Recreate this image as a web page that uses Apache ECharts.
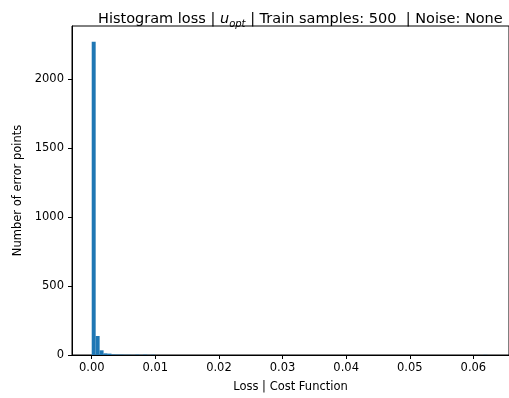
<!DOCTYPE html>
<html>
<head>
<meta charset="utf-8">
<script src="https://cdn.jsdelivr.net/npm/echarts@6/dist/echarts.min.js"></script>
<style>
html,body{margin:0;padding:0;background:#fff;}
#chart{width:509px;height:398px;}
</style>
</head>
<body>
<div id="chart"></div>
<script>
// Histogram: 100 bins from 0 to binMax
const binMin = 0;
const binMax = 0.0622;
const counts = [
  2273, 138, 34, 12, 10, 4, 3, 3, 2, 2,
  1, 3, 1, 3, 1, 2, 0, 0, 0, 0,
  0, 0, 0, 0, 0, 0, 0, 0, 0, 0,
  0, 0, 0, 0, 0, 0, 0, 0, 0, 0,
  0, 0, 0, 0, 0, 0, 0, 0, 0, 0,
  0, 0, 0, 0, 0, 0, 0, 0, 0, 0,
  0, 0, 0, 0, 0, 0, 0, 0, 0, 0,
  0, 0, 0, 0, 0, 0, 0, 0, 0, 0,
  0, 0, 0, 0, 0, 0, 0, 0, 0, 0,
  0, 0, 0, 0, 0, 0, 0, 0, 0, 1
];
const xTicks = [0, 0.01, 0.02, 0.03, 0.04, 0.05, 0.06];
const yTicks = [0, 500, 1000, 1500, 2000];

const binW = (binMax - binMin) / counts.length;
const barData = counts.map((c, i) => [binMin + i * binW, binMin + (i + 1) * binW, c]);

const chart = echarts.init(document.getElementById('chart'), null, {renderer: 'canvas'});
const font = 'DejaVu Sans';
chart.setOption({
  animation: false,
  backgroundColor: '#fff',
  title: {
    text: 'Histogram loss | {i|u}{sub|opt} | Train samples: 500  | Noise: None',
    left: 93,
    top: 4,
    textStyle: {
      fontFamily: font, fontSize: 14.5, fontWeight: 'normal', color: '#000', lineHeight: 20,
      rich: {
        i: {fontFamily: font, fontSize: 14.5, fontStyle: 'italic', color: '#000', lineHeight: 20},
        sub: {fontFamily: font, fontSize: 10, fontStyle: 'italic', color: '#000', lineHeight: 14, verticalAlign: 'bottom'}
      }
    }
  },
  grid: {
    left: 72, top: 26, width: 445, height: 329,
    show: true, borderColor: '#000', borderWidth: 1, backgroundColor: 'transparent'
  },
  xAxis: {
    type: 'value',
    min: -0.0031, max: 0.0656,
    name: 'Loss | Cost Function',
    nameLocation: 'middle',
    nameGap: 26,
    nameTextStyle: {fontFamily: font, fontSize: 11.5, color: '#000'},
    axisLine: {show: true, onZero: false, lineStyle: {color: '#000', width: 1}},
    axisTick: {show: true, length: 4, lineStyle: {color: '#000'}, customValues: xTicks},
    axisLabel: {fontFamily: font, fontSize: 11.5, color: '#000', margin: 7, customValues: xTicks,
      formatter: v => v.toFixed(2)},
    splitLine: {show: false}
  },
  yAxis: {
    type: 'value',
    min: 0, max: 2387,
    name: 'Number of error points',
    nameLocation: 'middle',
    nameGap: 47,
    nameTextStyle: {fontFamily: font, fontSize: 11.5, color: '#000'},
    axisLine: {show: true, onZero: false, lineStyle: {color: '#000', width: 1}},
    axisTick: {show: true, length: 4, lineStyle: {color: '#000'}, customValues: yTicks},
    axisLabel: {fontFamily: font, fontSize: 11.5, color: '#000', margin: 8, customValues: yTicks,
      formatter: v => String(v)},
    splitLine: {show: false}
  },
  series: [{
    type: 'custom',
    data: barData,
    encode: {x: [0, 1], y: 2},
    clip: true,
    renderItem: function (params, api) {
      const x0 = api.value(0), x1 = api.value(1), v = api.value(2);
      if (!v) return null;
      const p0 = api.coord([x0, 0]);
      const p1 = api.coord([x1, v]);
      return {
        type: 'rect',
        shape: {x: p0[0], y: p1[1], width: p1[0] - p0[0], height: p0[1] - p1[1]},
        style: {fill: '#1f77b4'}
      };
    }
  }]
});
</script>
</body>
</html>
